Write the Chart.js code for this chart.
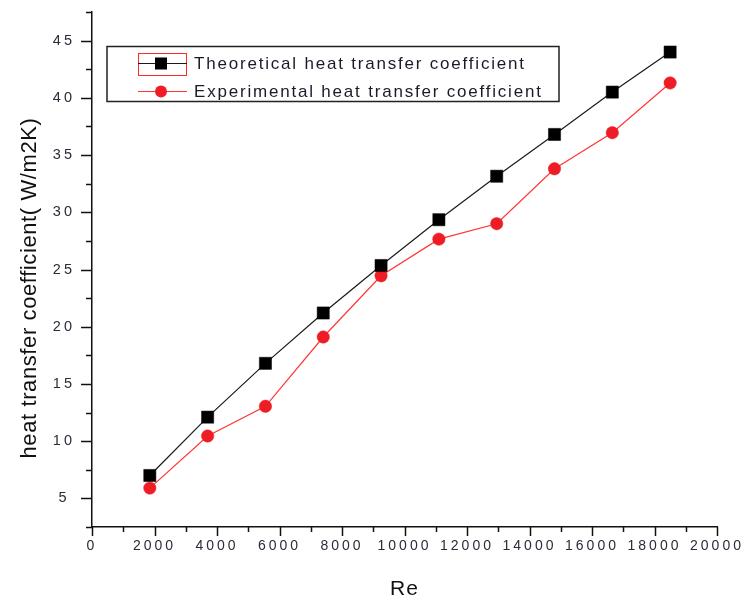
<!DOCTYPE html>
<html>
<head>
<meta charset="utf-8">
<script src="https://cdn.jsdelivr.net/npm/chart.js@4/dist/chart.umd.min.js"></script>
<style>
  html, body { margin: 0; padding: 0; background: #fff; }
  #wrap { width: 745px; height: 599px; }
</style>
</head>
<body>
<div id="wrap"><canvas id="heat_chart" width="745" height="599"></canvas></div>
<script>
"use strict";

// Values
const reynolds = [1850, 3700, 5550, 7400, 9250, 11100, 12950, 14800, 16650, 18500];
const theoretical = [7.0, 12.1, 16.8, 21.2, 25.35, 29.35, 33.15, 36.8, 40.5, 44.0];
const experimental = [5.9, 10.45, 13.05, 19.1, 24.45, 27.65, 29.0, 33.8, 36.95, 41.3];

const xTickLabels = [0, 2000, 4000, 6000, 8000, 10000, 12000, 14000, 16000, 18000, 20000];
const yTickLabels = [5, 10, 15, 20, 25, 30, 35, 40, 45];

const seriesNames = ['Theoretical heat transfer coefficient', 'Experimental heat transfer coefficient'];
const xTitle = 'Re';
const yTitle = 'heat transfer coefficient( W/m2K)';

const FONT = '"Liberation Sans", Arial, sans-serif';

var HeatChart = function () {

    var toPoints = function (xs, ys) {
        return xs.map(function (x, i) { return { x: x, y: ys[i] }; });
    };

    // Origin style tick marks: long majors, short minors, pointing out
    var tickMarks = {
        id: 'tickMarks',
        beforeDraw: function (chart) {
            chart.ctx.letterSpacing = '3px';
        },
        afterDraw: function (chart) {
            var ctx = chart.ctx;
            var xs = chart.scales.x, ys = chart.scales.y;
            var area = chart.chartArea;
            ctx.save();
            ctx.letterSpacing = '0px';
            ctx.strokeStyle = '#111';
            ctx.lineWidth = 1.5;
            ctx.beginPath();
            xs.ticks.forEach(function (t) {
                var px = Math.round(xs.getPixelForValue(t.value)) + 0.5;
                var len = xTickLabels.indexOf(t.value) >= 0 ? 9 : 5;
                ctx.moveTo(px, area.bottom);
                ctx.lineTo(px, area.bottom + len);
            });
            ys.ticks.forEach(function (t) {
                var py = Math.round(ys.getPixelForValue(t.value)) + 0.5;
                var len = yTickLabels.indexOf(t.value) >= 0 ? 11 : 6;
                ctx.moveTo(area.left, py);
                ctx.lineTo(area.left - len, py);
            });
            ctx.stroke();

            // axis titles
            ctx.fillStyle = '#111';
            ctx.font = '21px ' + FONT;
            ctx.textAlign = 'center';
            ctx.textBaseline = 'alphabetic';
            ctx.letterSpacing = '1px';
            ctx.fillText(xTitle, (area.left + area.right) / 2, 595);
            ctx.font = '22px ' + FONT;
            ctx.letterSpacing = '0.6px';
            ctx.translate(36, 288);
            ctx.rotate(-Math.PI / 2);
            ctx.fillText(yTitle, 0, 0);
            ctx.restore();
        }
    };

    // Boxed legend in the top left of the plot
    var boxLegend = {
        id: 'boxLegend',
        afterDraw: function (chart) {
            var ctx = chart.ctx;
            var sets = chart.data.datasets;
            ctx.save();
            ctx.letterSpacing = '0px';
            ctx.strokeStyle = '#222';
            ctx.lineWidth = 1.5;
            ctx.strokeRect(107, 46.5, 452, 55);

            // selection frame round the first symbol
            ctx.strokeStyle = '#ff2a2a';
            ctx.lineWidth = 1;
            ctx.strokeRect(138.5, 53.5, 48, 22);

            var rows = [63.5, 91.5];
            rows.forEach(function (y, i) {
                var ds = sets[i];
                ctx.strokeStyle = ds.borderColor;
                ctx.lineWidth = 1.2;
                ctx.beginPath();
                ctx.moveTo(138, y);
                ctx.lineTo(187, y);
                ctx.stroke();
                ctx.fillStyle = ds.pointBackgroundColor;
                if (ds.pointStyle === 'rect') {
                    ctx.fillRect(155, y - 6, 12, 12);
                } else {
                    ctx.beginPath();
                    ctx.arc(161, y, 6, 0, Math.PI * 2);
                    ctx.fill();
                }
                ctx.fillStyle = '#1a1a2a';
                ctx.font = '17px ' + FONT;
                ctx.letterSpacing = '1.8px';
                ctx.textAlign = 'left';
                ctx.textBaseline = 'middle';
                ctx.fillText(ds.label, 194, y + 0.5);
                ctx.letterSpacing = '0px';
            });
            ctx.restore();
        }
    };

    var initChart = function () {
        var element = document.getElementById('heat_chart');
        if (!element) {
            return;
        }

        var config = {
            type: 'line',
            data: {
                datasets: [{
                    label: seriesNames[0],
                    data: toPoints(reynolds, theoretical),
                    borderColor: '#1a1a1a',
                    borderWidth: 1.2,
                    pointStyle: 'rect',
                    pointRadius: 8.6,
                    pointBackgroundColor: '#000000',
                    pointBorderColor: '#000000',
                    pointBorderWidth: 0.5,
                    tension: 0,
                }, {
                    label: seriesNames[1],
                    data: toPoints(reynolds, experimental),
                    borderColor: '#ff3535',
                    borderWidth: 1.2,
                    pointStyle: 'circle',
                    pointRadius: 6.2,
                    pointBackgroundColor: '#ee1c24',
                    pointBorderColor: '#ee1c24',
                    pointBorderWidth: 0.5,
                    tension: 0,
                }]
            },
            options: {
                responsive: false,
                animation: false,
                layout: {
                    padding: { left: 0, right: 28, top: 12, bottom: 0 }
                },
                scales: {
                    x: {
                        type: 'linear',
                        min: 0,
                        max: 20000,
                        afterFit: function (s) {
                            s.height = 72;
                            s.paddingLeft = 0;
                            s.paddingRight = 0;
                        },
                        grid: { display: false, drawTicks: false },
                        border: { display: true, color: '#111', width: 1.5 },
                        ticks: {
                            stepSize: 1000,
                            autoSkip: false,
                            maxRotation: 0,
                            padding: 11,
                            color: '#2b2b3a',
                            font: { family: FONT, size: 14 },
                            callback: function (v) {
                                return xTickLabels.indexOf(v) >= 0 ? String(v) : '';
                            }
                        }
                    },
                    y: {
                        type: 'linear',
                        min: 2.5,
                        max: 47.5,
                        afterFit: function (s) {
                            s.width = 92;
                            s.paddingTop = 0;
                            s.paddingBottom = 0;
                        },
                        grid: { display: false, drawTicks: false },
                        border: { display: true, color: '#111', width: 1.5 },
                        ticks: {
                            stepSize: 2.5,
                            autoSkip: false,
                            crossAlign: 'center',
                            padding: 20,
                            color: '#2b2b3a',
                            font: { family: FONT, size: 14.5 },
                            callback: function (v) {
                                return yTickLabels.indexOf(v) >= 0 ? String(v) : '';
                            }
                        }
                    }
                },
                plugins: {
                    legend: { display: false },
                    tooltip: { enabled: false }
                }
            },
            plugins: [tickMarks, boxLegend]
        };

        new Chart(element.getContext('2d'), config);
    };

    return {
        init: function () {
            initChart();
        }
    };
}();

document.addEventListener('DOMContentLoaded', function () {
    HeatChart.init();
});
</script>
</body>
</html>
